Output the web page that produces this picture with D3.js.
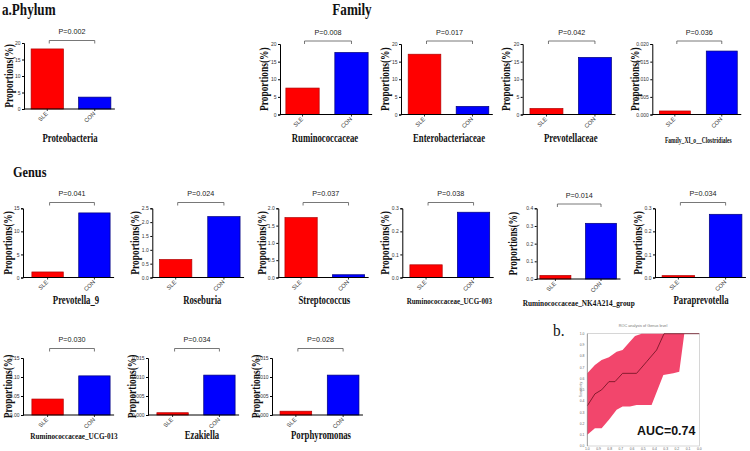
<!DOCTYPE html>
<html><head><meta charset="utf-8">
<script src="https://cdn.jsdelivr.net/npm/d3@7"></script>
<style>body{margin:0;background:#fff}svg{display:block}</style>
</head><body>
<svg id="c" width="750" height="451"></svg>
<script>
// ---------- data ----------
const groups = ["SLE", "CON"];
const taxa = ["Proteobacteria","Ruminococcaceae","Enterobacteriaceae","Prevotellaceae","Family_XI_o__Clostridiales",
  "Prevotella_9","Roseburia","Streptococcus","Ruminococcaceae_UCG-003","Ruminococcaceae_NK4A214_group","Paraprevotella",
  "Ruminococcaceae_UCG-013","Ezakiella","Porphyromonas"];
const sleValues = [18.2, 7.5, 17.1, 1.7, 0.001, 1.2, 0.65, 1.73, 0.055, 0.02, 0.008, 0.042, 0.0006, 0.001];
const conValues = [3.6, 17.6, 2.3, 16.2, 0.018, 14.0, 2.2, 0.08, 0.283, 0.315, 0.274, 0.103, 0.0105, 0.0105];
const pLabels = ["P=0.002","P=0.008","P=0.017","P=0.042","P=0.036","P=0.041","P=0.024","P=0.037","P=0.038","P=0.014","P=0.034","P=0.030","P=0.034","P=0.028"];
const yMax = [20,20,20,20,0.02,15,2.5,2.0,0.3,0.4,0.3,0.15,0.015,0.015];
const yStep = [5,5,5,5,0.005,5,0.5,0.5,0.1,0.1,0.1,0.05,0.005,0.005];
const yFormat = ["d","d","d","d",".3f","d",".1f",".1f",".1f",".1f",".1f",".2f",".3f",".3f"];
const sectionTitles = ["a.Phylum","Family","Genus","b."];

// ROC (specificity on x, reversed axis; sensitivity on y)
const rocTitle = "ROC analysis of Genus level";
const meanSpec = [1.0,0.932,0.872,0.807,0.753,0.685,0.56,0.47,0.381,0.315,0.0];
const meanSens = [0.358,0.464,0.5,0.573,0.573,0.647,0.647,0.751,0.855,1.0,1.0];
const upSpec = [1.0,0.932,0.872,0.807,0.738,0.685,0.634,0.574,0.515,0.0];
const upSens = [0.648,0.722,0.766,0.79,0.84,0.855,0.913,0.979,1.0,1.0];
const loSpec = [1.0,0.932,0.872,0.807,0.738,0.685,0.619,0.56,0.426,0.321,0.232,0.179,0.134,0.0];
const loSens = [0.1,0.159,0.159,0.233,0.322,0.352,0.352,0.366,0.366,0.633,0.648,0.662,1.0,1.0];
const rocTicks = [1.0,0.9,0.8,0.7,0.6,0.5,0.4,0.3,0.2,0.1,0.0];
const aucLabel = "AUC=0.74";

// ---------- layout ----------
const layout = [
  {ax:24,   top:43,    base:109,   W:94, pi:0.32, po:0.15, pY:34,    catY:141.5, catDx:46, catSize:11.5, catSx:0.76, lab:-11.5},
  {ax:280,  top:44,    base:114.5, W:94, pi:0.32, po:0.12, pY:34.5,  catY:141.5, catDx:45, catSize:11.5, catSx:0.76, lab:-12.5},
  {ax:401,  top:44,    base:114.5, W:95, pi:0.32, po:0.15, pY:34.5,  catY:141.5, catDx:48, catSize:11.5, catSx:0.76, lab:-12.5},
  {ax:522.7,top:44,    base:114.5, W:96, pi:0.32, po:0.15, pY:34.5,  catY:141.5, catDx:48, catSize:11.5, catSx:0.76, lab:-12.5},
  {ax:652.3,top:44,    base:114.5, W:92, pi:0.34, po:0.15, pY:34.5,  catY:143,   catDx:46, catSize:9,    catSx:0.62, lab:-13},
  {ax:23,   top:208.3, base:277.5, W:96, pi:0.33, po:0.19, pY:196,   catY:303.5, catDx:53, catSize:11.5, catSx:0.76, lab:-11},
  {ax:152.3,top:208.3, base:277.5, W:95, pi:0.33, po:0.15, pY:196,   catY:303.5, catDx:50, catSize:11.5, catSx:0.76, lab:-13.5},
  {ax:278.3,top:208.3, base:277.5, W:93, pi:0.32, po:0.14, pY:196,   catY:303.5, catDx:46, catSize:11.5, catSx:0.76, lab:-12.5},
  {ax:402.3,top:208.3, base:277.5, W:95, pi:0.32, po:0.16, pY:196,   catY:303.5, catDx:47, catSize:9,    catSx:0.78, lab:-13},
  {ax:536.7,top:208.3, base:279,   W:83, pi:0.32, po:0.07, pY:197.5, catY:305.5, catDx:42, catSize:8.5,  catSx:0.86, lab:-20},
  {ax:655,  top:208.3, base:277.5, W:94, pi:0.31, po:0.15, pY:196,   catY:303.5, catDx:46, catSize:11.5, catSx:0.76, lab:-13.5},
  {ax:23,   top:358,   base:415,   W:96, pi:0.33, po:0.19, pY:342,   catY:439,   catDx:51, catSize:9,    catSx:0.8,  lab:-11.5},
  {ax:148,  top:358,   base:415,   W:96, pi:0.33, po:0.19, pY:342,   catY:439,   catDx:54, catSize:11.5, catSx:0.76, lab:-12.5},
  {ax:272,  top:358,   base:415,   W:95, pi:0.33, po:0.17, pY:342,   catY:439,   catDx:49, catSize:11.5, catSx:0.76, lab:-12.5}
];
const colors = {SLE:"#ff0000", CON:"#0000ff"};
const strokes = {SLE:"#b00000", CON:"#00007a"};
const SERIF = "'Liberation Serif','Times New Roman',serif";
const SANS = "'Liberation Sans',Arial,sans-serif";

const svg = d3.select("#c");

function stext(x, y, str, size, anchor, rot, sx, weight, family, fill) {
  svg.append("text")
    .attr("transform", `translate(${x},${y}) rotate(${rot}) scale(${sx},1)`)
    .attr("text-anchor", anchor)
    .style("font-family", family || SERIF)
    .style("font-weight", weight || "bold")
    .style("font-size", size + "px")
    .attr("fill", fill || "#111")
    .text(str);
}

// section titles
stext(2, 15, sectionTitles[0], 16, "start", 0, 0.82);
stext(352, 15, sectionTitles[1], 16, "middle", 0, 0.82);
stext(13, 176.5, sectionTitles[2], 15, "start", 0, 0.82);
stext(553, 336, sectionTitles[3], 17, "start", 0, 0.9, "normal");

// ---------- bar panels ----------
taxa.forEach((name, i) => {
  const L = layout[i];
  const vals = {SLE: sleValues[i], CON: conValues[i]};
  const x = d3.scaleBand().domain(groups).range([L.ax, L.ax + L.W]).paddingInner(L.pi).paddingOuter(L.po);
  const y = d3.scaleLinear().domain([0, yMax[i]]).range([L.base, L.top]);
  const g = svg.append("g");

  // bars
  g.selectAll("rect").data(groups).join("rect")
    .attr("x", d => x(d)).attr("width", x.bandwidth())
    .attr("y", d => y(vals[d])).attr("height", d => L.base - y(vals[d]))
    .attr("fill", d => colors[d]).attr("stroke", d => strokes[d]).attr("stroke-width", 0.7);

  // y axis
  const ticks = d3.range(0, yMax[i] + yStep[i] / 2, yStep[i]);
  const yAxis = d3.axisLeft(y).tickValues(ticks).tickFormat(d3.format(yFormat[i])).tickSize(2).tickPadding(1.5);
  const ga = svg.append("g").attr("transform", `translate(${L.ax},0)`).call(yAxis);
  ga.select(".domain").attr("stroke", "#000").attr("stroke-width", 1);
  ga.selectAll(".tick line").attr("stroke", "#000");
  ga.selectAll(".tick text").style("font-family", SANS).style("font-size", "5px").attr("fill", "#333");

  // x axis
  const xEnd = x("CON") + x.bandwidth() + 4;
  svg.append("line").attr("x1", L.ax).attr("x2", xEnd).attr("y1", L.base).attr("y2", L.base)
    .attr("stroke", "#000").attr("stroke-width", 1);
  groups.forEach(gname => {
    const cx = x(gname) + x.bandwidth() / 2;
    svg.append("line").attr("x1", cx).attr("x2", cx).attr("y1", L.base).attr("y2", L.base + 2)
      .attr("stroke", "#000").attr("stroke-width", 0.8);
    stext(cx + 1, L.base + 5, gname, 5.8, "end", -45, 1, "normal", SANS, "#333");
  });

  // y label
  stext(L.ax + L.lab, (L.top + L.base) / 2, "Proportions(%)", 11.5, "middle", -90, 0.82);

  // bracket + P label
  const c1 = x("SLE") + x.bandwidth() / 2 + 2, c2 = x("CON") + x.bandwidth() / 2;
  const by = L.pY + 6.5;
  svg.append("path").attr("d", `M${c1},${by + 3}V${by}H${c2}V${by + 3}`)
    .attr("fill", "none").attr("stroke", "#555").attr("stroke-width", 0.8);
  stext((c1 + c2) / 2, L.pY, pLabels[i], 7.2, "middle", 0, 1, "normal", SANS, "#222");

  // category label
  stext(L.ax + L.catDx, L.catY, name, L.catSize, "middle", 0, L.catSx);
});

// ---------- ROC panel ----------
const rx = d3.scaleLinear().domain([1, 0]).range([587.3, 699.3]);
const ry = d3.scaleLinear().domain([0, 1]).range([446, 333.7]);
svg.append("rect").attr("x", 587.3).attr("y", 333.7).attr("width", 112).attr("height", 112.3)
  .attr("fill", "#fff").attr("stroke", "#bbb").attr("stroke-width", 0.6);
const upPts = upSpec.map((s, k) => [rx(s), ry(upSens[k])]);
const loPts = loSpec.map((s, k) => [rx(s), ry(loSens[k])]).reverse();
svg.append("path").attr("d", d3.line()(upPts.concat(loPts)) + "Z").attr("fill", "#f2466c");
svg.append("path").attr("d", d3.line()(meanSpec.map((s, k) => [rx(s), ry(meanSens[k])])))
  .attr("fill", "none").attr("stroke", "#6b1020").attr("stroke-width", 0.8);
svg.append("line").attr("x1", 587.3).attr("x2", 587.3).attr("y1", 333.7).attr("y2", 446).attr("stroke", "#777").attr("stroke-width", 0.6);
rocTicks.forEach(t => {
  stext(584.5, ry(t) + 1.2, t.toFixed(1), 3.4, "end", 0, 1, "normal", SANS, "#666");
  stext(rx(t), 449.5, t.toFixed(1), 3.4, "middle", 0, 1, "normal", SANS, "#666");
});
stext(643, 326.5, rocTitle, 3.8, "middle", 0, 1, "normal", SANS, "#777");
stext(581.5, 389.5, "Sensitivity", 3.4, "middle", -90, 1, "normal", SANS, "#777");
stext(637, 435, aucLabel, 13.5, "start", 0, 0.92, "bold", SANS, "#111");
</script>
</body></html>
